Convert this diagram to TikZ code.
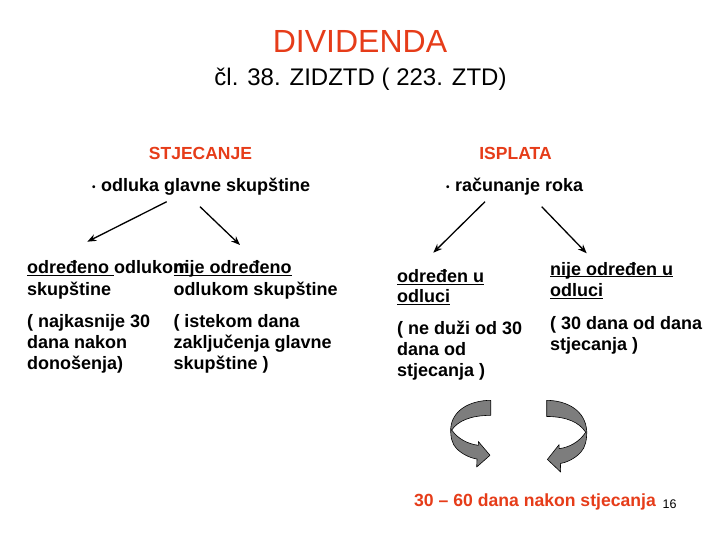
\documentclass[tikz,border=0pt]{standalone}
\usepackage{fontspec}
\setmainfont{Liberation Sans}
\usetikzlibrary{arrows.meta}
\definecolor{accent}{RGB}{230,60,25}
\definecolor{ribbon}{RGB}{125,125,125}
\newcommand\myul[1]{\sbox0{#1}\rlap{\rule[-2.4pt]{\wd0}{1.3pt}}\usebox0}
\begin{document}
\begin{tikzpicture}[x=1pt,y=-1pt,
  txt/.style={inner sep=0pt,anchor=base west,font=\fontsize{18}{21}\selectfont\bfseries},
  head/.style={inner sep=0pt,anchor=base,text=accent,font=\fontsize{17.5}{21}\selectfont\bfseries},
  conn/.style={line width=1.3pt,-{Stealth[length=9pt,width=7pt]}},
  ribbonarrow/.style={fill=ribbon,draw=black,line width=0.6pt,line join=round}]
\useasboundingbox (0,0) rectangle (720,540);
\fill[white] (0,0) rectangle (720,540);

% titles
\node[inner sep=0pt,anchor=base,text=accent,font=\fontsize{32}{36}\selectfont] (title) at (360,53) {DIVIDENDA};
\node[inner sep=0pt,anchor=base,font=\fontsize{24}{28}\selectfont] (sub) at (360.5,86) {čl. 38. ZIDZTD ( 223. ZTD)};

% headings
\node[head] (stj) at (200.5,160) {STJECANJE};
\node[head] (isp) at (515.5,160) {ISPLATA};

\node[txt] (bl) at (92,192) {{\fontsize{10}{10}\selectfont\raisebox{1.5pt}{•}}\hspace{5.5pt}odluka glavne skupštine};
\node[txt] (br) at (446,192) {{\fontsize{10}{10}\selectfont\raisebox{1.5pt}{•}}\hspace{5.5pt}računanje roka};

% connectors
\coordinate (s1) at (166.7,201.7);
\coordinate (e1) at (87.3,241.7);
\coordinate (s2) at (200,206.7);
\coordinate (e2) at (240,245);
\coordinate (s3) at (485,201.7);
\coordinate (e3) at (433.3,252.7);
\coordinate (s4) at (541.7,206.7);
\coordinate (e4) at (586.7,253.3);
\draw[conn] (s1) -- (e1);
\draw[conn] (s2) -- (e2);
\draw[conn] (s3) -- (e3);
\draw[conn] (s4) -- (e4);

% left column 1
\node[txt] (a1) at (27,273.5) {\myul{određeno\ }odlukom};
\node[txt] (a2) at (27,295) {skupštine};
\node[txt] (a3) at (27,327) {( najkasnije 30};
\node[txt] (a4) at (27,348) {dana nakon};
\node[txt] (a5) at (27,369) {donošenja)};

% left column 2
\node[txt] (b1) at (173.3,273.5) {\myul{nije određeno}};
\node[txt] (b2) at (173.3,295) {odlukom skupštine};
\node[txt] (b3) at (173.3,327) {( istekom dana};
\node[txt] (b4) at (173.3,348) {zaključenja glavne};
\node[txt] (b5) at (173.3,369) {skupštine )};

% right column 1
\node[txt] (c1) at (397,282.5) {\myul{određen u}};
\node[txt] (c2) at (397,302.5) {\myul{odluci}};
\node[txt] (c3) at (397,334.5) {( ne duži od 30};
\node[txt] (c4) at (397,355.5) {dana od};
\node[txt] (c5) at (397,376) {stjecanja )};

% right column 2
\node[txt] (d1) at (550,275) {\myul{nije određen u}};
\node[txt] (d2) at (550,296.5) {\myul{odluci}};
\node[txt] (d3) at (550,329.5) {( 30 dana od dana};
\node[txt] (d4) at (550,350.5) {stjecanja )};

% curved ribbon arrows
\newcommand\ribbonpath{(490.7,400.3) .. controls (470,400.5) and (452,410) .. (450.7,428.7)
  .. controls (450.5,437) and (452,444) .. (456.7,448.7)
  .. controls (462,454) and (470,458) .. (477,459)
  -- (476.7,467) -- (490,455.3) -- (478.3,441.5) -- (478.3,445.3)
  .. controls (468,444) and (458,439) .. (451.7,430)
  .. controls (458,421) and (470,415.5) .. (490.7,415.3) -- cycle}
\path[ribbonarrow] \ribbonpath;
\begin{scope}[shift={(1037.4,400)},xscale=-1,yscale=1.075,shift={(0,-400)}]
\path[ribbonarrow] \ribbonpath;
\end{scope}

% bottom
\node[inner sep=0pt,anchor=base west,text=accent,font=\fontsize{17.6}{21}\selectfont\bfseries] (dur) at (414,506.5) {30 – 60 dana nakon stjecanja};
\node[inner sep=0pt,anchor=base west,font=\fontsize{12.5}{14}\selectfont] (pg) at (662.5,508) {16};
\end{tikzpicture}
\end{document}
